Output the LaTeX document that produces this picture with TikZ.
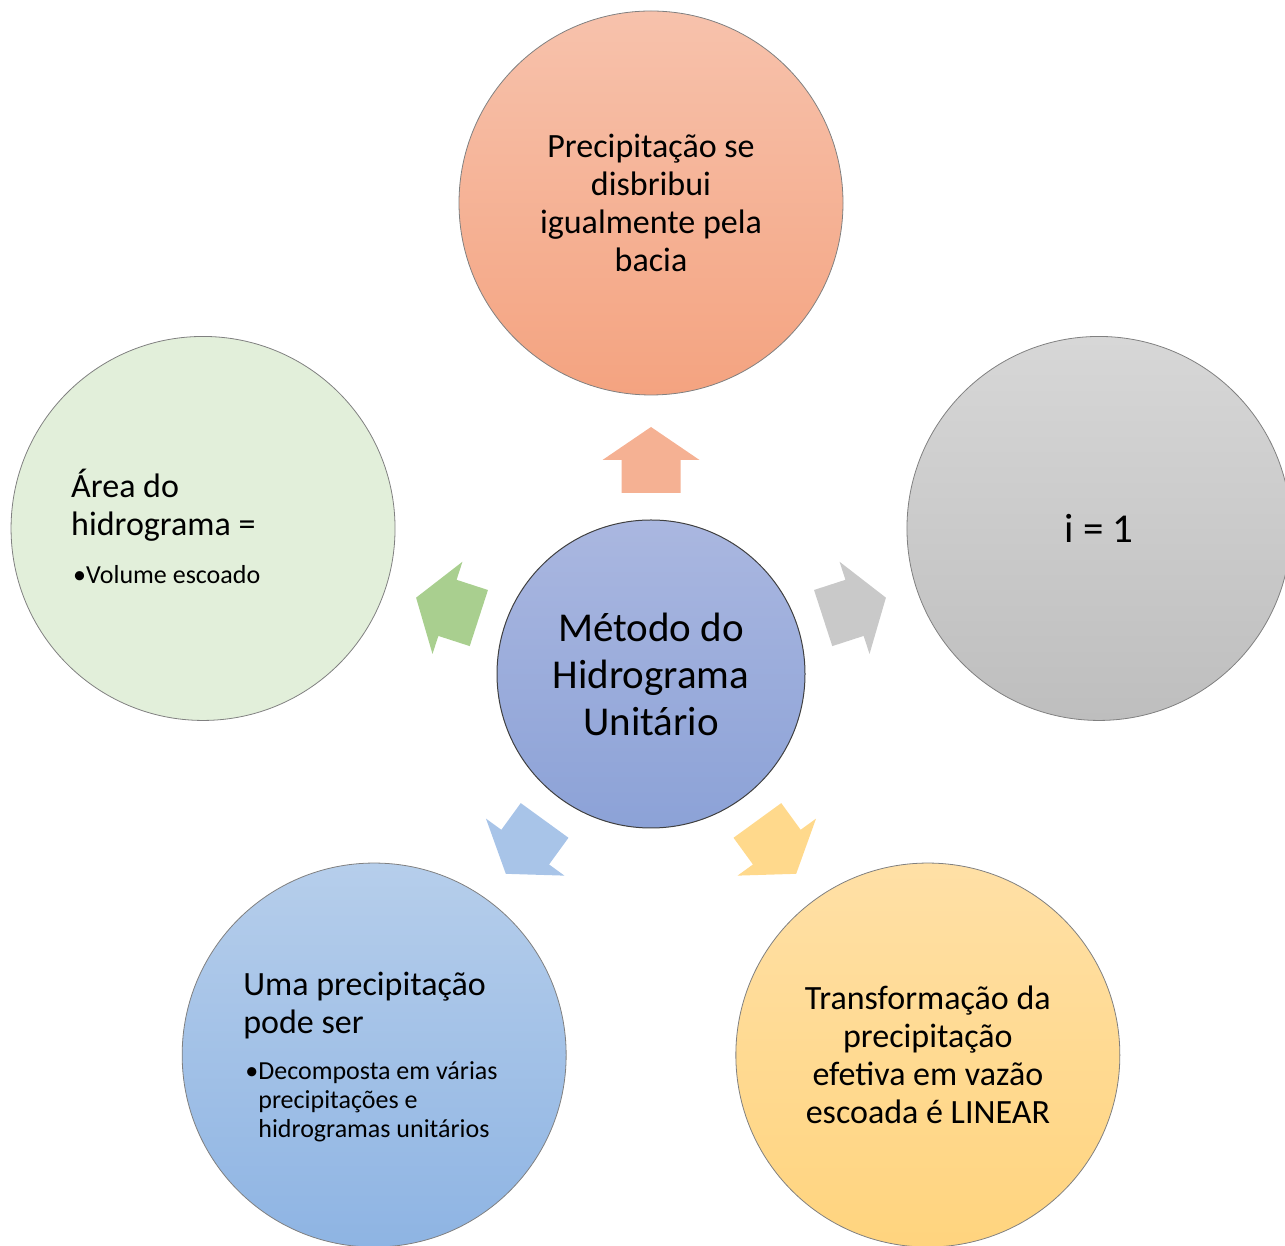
\documentclass[tikz,border=0pt]{standalone}
\usepackage{fontspec}
\setmainfont{Carlito}
\usetikzlibrary{calc}

\definecolor{hubtop}{HTML}{AAB7E0}
\definecolor{hubbot}{HTML}{8CA2D7}
\definecolor{raintop}{HTML}{F7C2AC}
\definecolor{rainbot}{HTML}{F4A380}
\definecolor{itop}{HTML}{D7D7D7}
\definecolor{ibot}{HTML}{BEBEBE}
\definecolor{lintop}{HTML}{FFE0A6}
\definecolor{linbot}{HTML}{FFD47E}
\definecolor{dectop}{HTML}{B6CEEB}
\definecolor{decbot}{HTML}{8EB4E3}
\definecolor{areafill}{HTML}{E2EFDA}
\definecolor{arrrain}{HTML}{F5B193}
\definecolor{arri}{HTML}{C9C9C9}
\definecolor{arrlin}{HTML}{FFD98C}
\definecolor{arrdec}{HTML}{A8C4E8}
\definecolor{arrarea}{HTML}{A9CF8F}

\tikzset{
  bubble/.style={circle, minimum size=384pt, inner sep=0pt, draw=black!50, line width=0.8pt},
  maintext/.style={font=\fontsize{34}{38}\selectfont, align=center},
  bullettext/.style={font=\fontsize{26}{29}\selectfont, align=left, inner sep=0pt, anchor=base west},
}

\begin{document}
\begin{tikzpicture}[x=1pt, y=1pt]
  \useasboundingbox (0,0) rectangle (1285,1245);
  \clip (0,0) rectangle (1285,1245);

  % Hub and the five satellites around it
  \coordinate (c) at (651,571);

  \node[bubble, top color=raintop, bottom color=rainbot, maintext] (rain) at ($(c)+(90:471)$)
    {Precipitação se\\disbribui\\igualmente pela\\bacia};
  \node[bubble, top color=itop, bottom color=ibot, font=\fontsize{41}{47}\selectfont] (ione) at ($(c)+(18:471)$)
    {i = 1};
  \node[bubble, top color=lintop, bottom color=linbot, maintext] (linear) at ($(c)+(-54:471)$)
    {Transformação da\\precipitação\\efetiva em vazão\\escoada é LINEAR};
  \node[bubble, top color=dectop, bottom color=decbot] (decomp) at ($(c)+(-126:471)$) {};
  \node[bubble, fill=areafill] (area) at ($(c)+(162:471)$) {};

  % Left-aligned texts (base = last line)
  \node[maintext, align=left, inner sep=0pt, anchor=base west] (areahead) at ($(area.center)+(-132,-7)$)
    {Área do\\hidrograma =};
  \node[bullettext] (areabul) at ($(area.center)+(-130,-55)$)
    {\makebox[13pt][l]{•}Volume escoado};
  \node[maintext, align=left, inner sep=0pt, anchor=base west] (dechead) at ($(decomp.center)+(-131,22)$)
    {Uma precipitação\\pode ser};
  \node[bullettext] (decbul) at ($(decomp.center)+(-129,-82)$)
    {\makebox[13pt][l]{•}Decomposta em várias\\\hspace*{13pt}precipitações e\\\hspace*{13pt}hidrogramas unitários};

  % Block arrows pointing out of the hub
  \foreach \ang/\col in {90/arrrain, 18/arri, -54/arrlin, -126/arrdec, 162/arrarea}{
    \begin{scope}[shift={(c)}, rotate=\ang-90]
      \fill[\col] (-29.5,181) -- (-29.5,214) -- (-48.5,214) -- (0,247)
        -- (48.5,214) -- (29.5,214) -- (29.5,181) -- cycle;
    \end{scope}
  }

  % Hub circle
  \node[circle, minimum size=308pt, inner sep=0pt, top color=hubtop, bottom color=hubbot,
    draw=black!75, line width=1pt, align=center, font=\fontsize{41}{47}\selectfont] (hub) at (c)
    {Método do\\Hidrograma\\Unitário};

\end{tikzpicture}
\end{document}
